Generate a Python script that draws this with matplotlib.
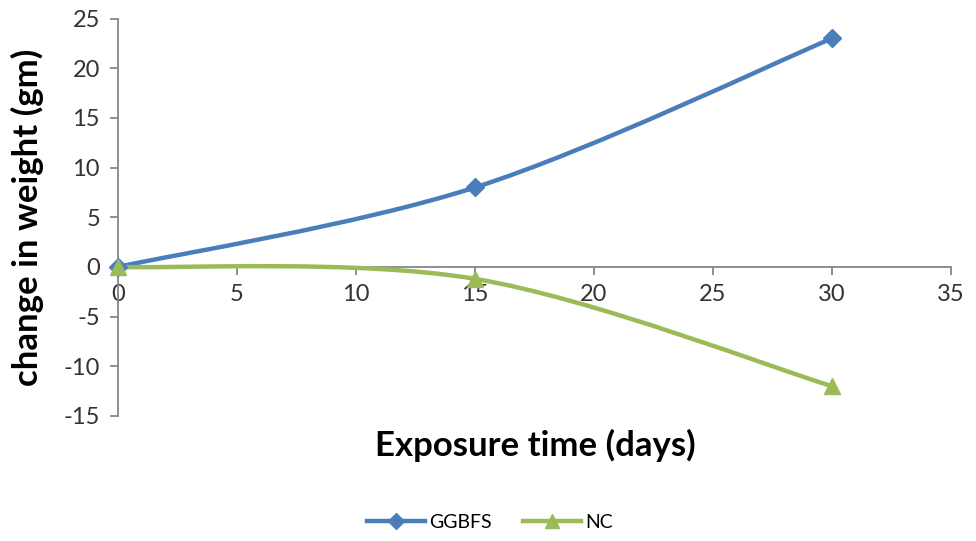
import numpy as np
import matplotlib.pyplot as plt
from matplotlib.path import Path
from matplotlib.patches import PathPatch
from matplotlib.lines import Line2D

# Data
days = [0, 15, 30]
ggbfs = [0, 8, 23]
nc = [0, -1.2, -12]

blue = '#4A7EBB'
green = '#9BBB59'
axisGray = '#868686'

plt.rcParams['font.family'] = ['Lato', 'DejaVu Sans']
plt.rcParams['axes.unicode_minus'] = False

fig = plt.figure(figsize=(9.76, 5.41), dpi=100)
ax = fig.add_axes([0.1209, 0.2311, 0.8535, 0.7347])


# Excel-style smoothed line: cubic Bezier through the points
def smoothPath(xs, ys):
    pts = np.column_stack([xs, ys]).astype(float)
    n = len(pts)
    verts = [pts[0]]
    codes = [Path.MOVETO]
    for i in range(n - 1):
        p0 = pts[max(i - 1, 0)]
        p1 = pts[i]
        p2 = pts[i + 1]
        p3 = pts[min(i + 2, n - 1)]
        c1 = p1 + (p2 - p0) / 6.0
        c2 = p2 - (p3 - p1) / 6.0
        verts += [c1, c2, p2]
        codes += [Path.CURVE4] * 3
    return Path(verts, codes)


for ys, col, mk, ms in [(ggbfs, blue, 'D', 9), (nc, green, '^', 11)]:
    patch = PathPatch(smoothPath(days, ys), facecolor='none', edgecolor=col,
                      lw=3.2, capstyle='round', joinstyle='round', zorder=3)
    ax.add_patch(patch)
    ax.plot(days, ys, linestyle='none', marker=mk, markersize=ms,
            color=col, zorder=4, clip_on=False)

ax.set_xlim(0, 35)
ax.set_ylim(-15, 25)
ax.set_xticks(range(0, 36, 5))
ax.set_yticks(range(-15, 26, 5))

for side in ['top', 'right']:
    ax.spines[side].set_visible(False)
ax.spines['bottom'].set_position(('data', 0))
for side in ['left', 'bottom']:
    ax.spines[side].set_color(axisGray)
    ax.spines[side].set_linewidth(1.3)

ax.tick_params(axis='both', colors=axisGray, width=1.3, length=6, direction='out')
ax.tick_params(axis='both', labelcolor='#333333', labelsize=17)
ax.tick_params(axis='y', pad=7)
ax.tick_params(axis='x', pad=6)

fig.text(0.028, 0.599, 'change in weight (gm)', fontsize=25, fontweight='bold',
         rotation=90, ha='center', va='center')
fig.text(0.548, 0.176, 'Exposure time (days)', fontsize=25, fontweight='bold',
         ha='center', va='center')

handles = [
    Line2D([], [], color=blue, lw=3.2, marker='D', markersize=8),
    Line2D([], [], color=green, lw=3.2, marker='^', markersize=10),
]
fig.legend(handles, ['GGBFS', 'NC'], loc='center', bbox_to_anchor=(0.502, 0.035),
           ncol=2, frameon=False, fontsize=14, handlelength=3.0,
           columnspacing=1.6, handletextpad=0.2)

fig.savefig('out.png', dpi=100)
